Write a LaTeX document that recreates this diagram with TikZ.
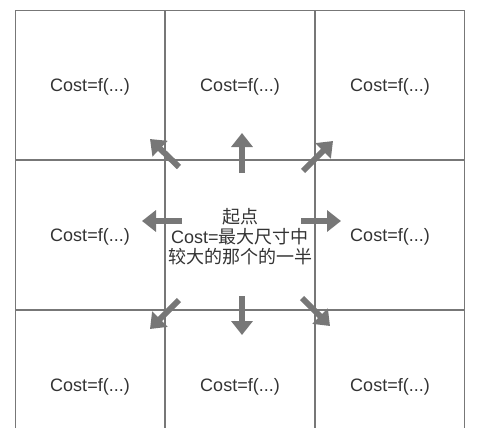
\documentclass[tikz,border=0pt]{standalone}
\usepackage{fontspec}
\setmainfont{Liberation Sans}
\newfontfamily\cjk{Noto Sans CJK SC}
\usetikzlibrary{arrows.meta}
\definecolor{gridgray}{HTML}{777777}
\definecolor{txtgray}{HTML}{333333}
\begin{document}
\begin{tikzpicture}[x=0.75pt,y=-0.75pt,
  outer/.style={draw=gridgray,line width=0.9pt},
  inner/.style={draw=gridgray,line width=1.3pt},
  dirarrow/.style={draw=gridgray,line width=4.5pt,-{Triangle[length=10.5pt,width=15.75pt]}},
  celltext/.style={text=txtgray,font=\fontsize{13.5pt}{15pt}\selectfont,inner sep=0pt},
  centertext/.style={text=txtgray,font=\fontsize{13.5pt}{15pt}\selectfont,align=center,inner sep=0pt}]
\useasboundingbox (0,0) rectangle (485,428);
% grid
\draw[outer] (15.5,428) -- (15.5,10.5) -- (464.5,10.5) -- (464.5,428);
\draw[inner] (165,10.5) -- (165,428);
\draw[inner] (315,10.5) -- (315,428);
\draw[inner] (15.5,160) -- (464.5,160);
\draw[inner] (15.5,310) -- (464.5,310);
% cell texts
\node[celltext] (c11) at (90,86.5) {Cost=f(...)};
\node[celltext] (c12) at (240,86.5) {Cost=f(...)};
\node[celltext] (c13) at (390,86.5) {Cost=f(...)};
\node[celltext] (c21) at (90,236.5) {Cost=f(...)};
\node[centertext] (c22) at (240,237) {{\cjk 起点}\\Cost={\cjk 最大尺寸中}\\{\cjk 较大的那个的一半}};
\node[celltext] (c23) at (390,236.5) {Cost=f(...)};
\node[celltext] (c31) at (90,386.5) {Cost=f(...)};
\node[celltext] (c32) at (240,386.5) {Cost=f(...)};
\node[celltext] (c33) at (390,386.5) {Cost=f(...)};
% arrow anchors
\coordinate (uT) at (242,173); \coordinate (uH) at (242,133);
\coordinate (dT) at (242,296); \coordinate (dH) at (242,335);
\coordinate (lT) at (182,221); \coordinate (lH) at (142,221);
\coordinate (rT) at (301,221); \coordinate (rH) at (341,221);
\coordinate (ulT) at (179,167); \coordinate (ulH) at (150,139);
\coordinate (urT) at (303,171); \coordinate (urH) at (333,141);
\coordinate (dlT) at (179,300); \coordinate (dlH) at (150,329);
\coordinate (drT) at (302,298); \coordinate (drH) at (330,326);
\draw[dirarrow] (uT) -- (uH);
\draw[dirarrow] (dT) -- (dH);
\draw[dirarrow] (lT) -- (lH);
\draw[dirarrow] (rT) -- (rH);
\draw[dirarrow] (ulT) -- (ulH);
\draw[dirarrow] (urT) -- (urH);
\draw[dirarrow] (dlT) -- (dlH);
\draw[dirarrow] (drT) -- (drH);
\end{tikzpicture}
\end{document}
